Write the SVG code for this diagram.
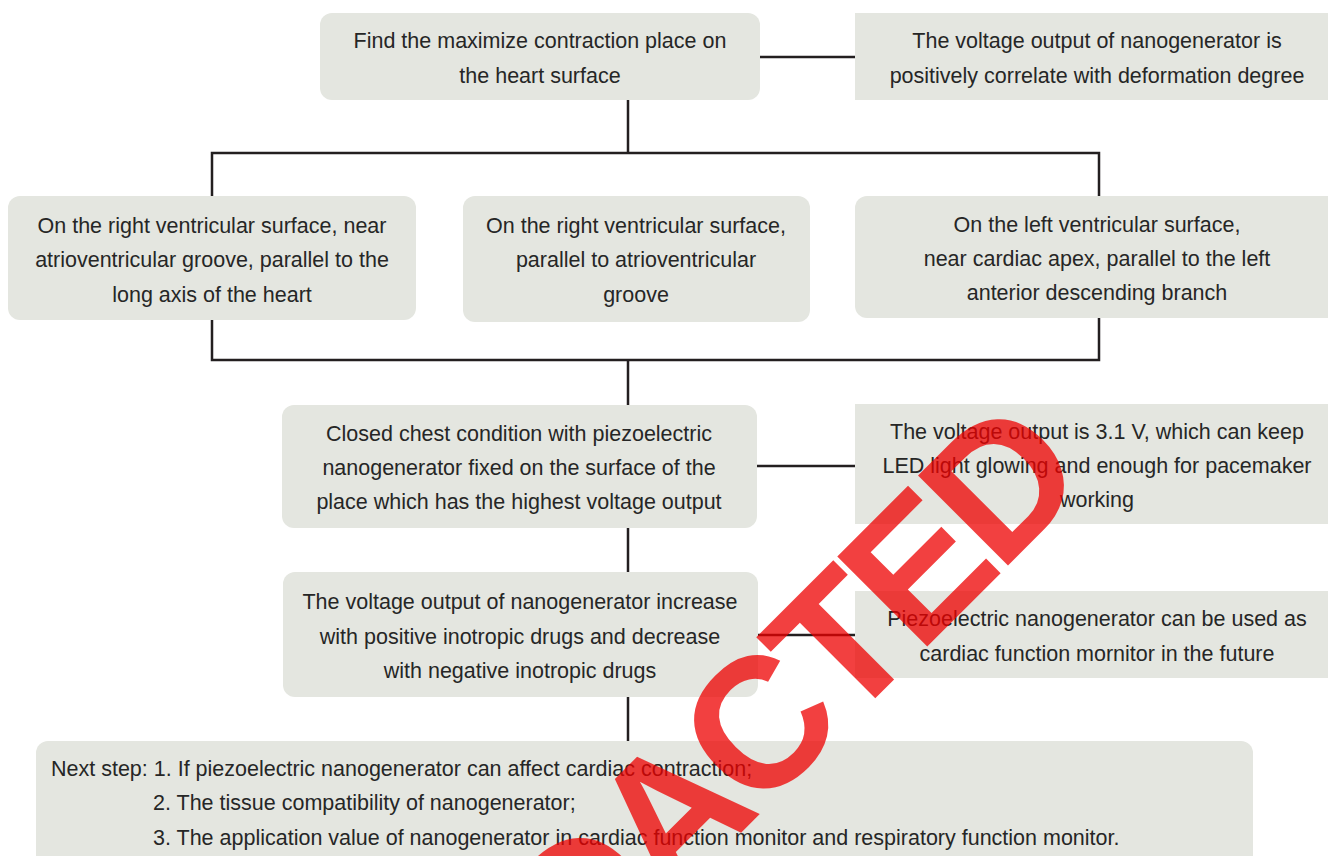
<svg xmlns="http://www.w3.org/2000/svg" width="1328" height="856" viewBox="0 0 1328 856">
<style>
.box{fill:#e4e6e0}
.t{font-family:"Liberation Sans",Arial,sans-serif;font-size:21.5px;fill:#262626;text-anchor:middle}
.tl{font-family:"Liberation Sans",Arial,sans-serif;font-size:21.5px;fill:#262626}
.c{fill:none;stroke:#231f20;stroke-width:2.5}
.stamp{font-family:"Liberation Sans",Arial,sans-serif;font-weight:bold;font-size:185px;letter-spacing:-9px;fill:#ee0000;fill-opacity:0.75}
</style>
<rect width="1328" height="856" fill="#ffffff"/>
<g id="connectors">
<path class="c" d="M760 57H855"/>
<path class="c" d="M628 100V153"/>
<path class="c" d="M212 196V153H1099V196"/>
<path class="c" d="M212 320V360H1099V318"/>
<path class="c" d="M628 360V405"/>
<path class="c" d="M757 466H855"/>
<path class="c" d="M628 528V573"/>
<path class="c" d="M758 635H855"/>
<path class="c" d="M628 697V741"/>
</g>
<g id="n1"><rect class="box" x="320" y="13" width="440" height="87" rx="12"/>
<text class="t" x="540" y="48">Find the maximize contraction place on</text>
<text class="t" x="540" y="83">the heart surface</text></g>
<g id="n2"><rect class="box" x="855" y="13" width="473" height="87"/>
<text class="t" x="1097" y="48">The voltage output of nanogenerator is</text>
<text class="t" x="1097" y="83">positively correlate with deformation degree</text></g>
<g id="n3"><rect class="box" x="8" y="196" width="408" height="124" rx="12"/>
<text class="t" x="212" y="233">On the right ventricular surface, near</text>
<text class="t" x="212" y="267">atrioventricular groove, parallel to the</text>
<text class="t" x="212" y="302">long axis of the heart</text></g>
<g id="n4"><rect class="box" x="463" y="196" width="347" height="126" rx="12"/>
<text class="t" x="636" y="233">On the right ventricular surface,</text>
<text class="t" x="636" y="267">parallel to atrioventricular</text>
<text class="t" x="636" y="302">groove</text></g>
<g id="n5"><path class="box" d="M867 196H1328V318H867A12 12 0 0 1 855 306V208A12 12 0 0 1 867 196Z"/>
<text class="t" x="1097" y="232">On the left ventricular surface,</text>
<text class="t" x="1097" y="266">near cardiac apex, parallel to the left</text>
<text class="t" x="1097" y="300">anterior descending branch</text></g>
<g id="n6"><rect class="box" x="282" y="405" width="475" height="123" rx="12"/>
<text class="t" x="519" y="441">Closed chest condition with piezoelectric</text>
<text class="t" x="519" y="475">nanogenerator fixed on the surface of the</text>
<text class="t" x="519" y="509">place which has the highest voltage output</text></g>
<g id="n7"><rect class="box" x="855" y="404" width="473" height="120"/>
<text class="t" x="1097" y="439">The voltage output is 3.1 V, which can keep</text>
<text class="t" x="1097" y="473">LED light glowing and enough for pacemaker</text>
<text class="t" x="1097" y="507">working</text></g>
<g id="n8"><rect class="box" x="283" y="572" width="475" height="125" rx="12"/>
<text class="t" x="520" y="609">The voltage output of nanogenerator increase</text>
<text class="t" x="520" y="644">with positive inotropic drugs and decrease</text>
<text class="t" x="520" y="678">with negative inotropic drugs</text></g>
<g id="n9"><rect class="box" x="855" y="591" width="473" height="87"/>
<text class="t" x="1097" y="626">Piezoelectric nanogenerator can be used as</text>
<text class="t" x="1097" y="661">cardiac function mornitor in the future</text></g>
<g id="n10"><rect class="box" x="36" y="741" width="1217" height="140" rx="12"/>
<text class="tl" x="51" y="776">Next step: 1. If piezoelectric nanogenerator can affect cardiac contraction;</text>
<text class="tl" x="153" y="810">2. The tissue compatibility of nanogenerator;</text>
<text class="tl" x="153" y="845">3. The application value of nanogenerator in cardiac function monitor and respiratory function monitor.</text></g>
<g id="stamp"><text class="stamp" transform="translate(884.6 689) rotate(-45)" x="-669" y="0">REDACTED</text></g>
</svg>
